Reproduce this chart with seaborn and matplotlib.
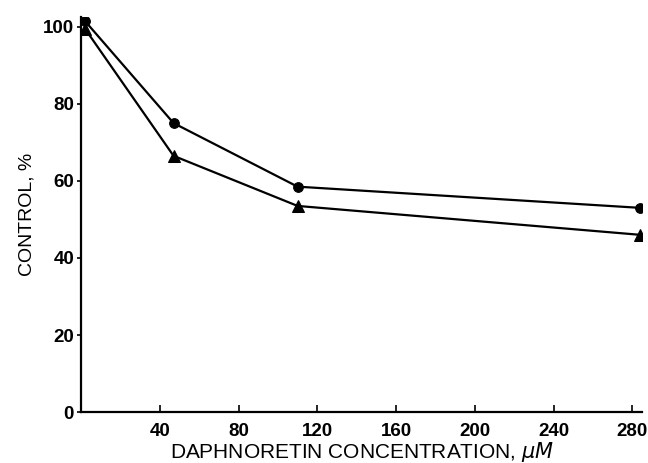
#!/usr/bin/env python3

# Daphnoretin dose response, two series (circles and triangles)
import pandas as pd
import matplotlib
matplotlib.use("Agg")
import matplotlib.pyplot as plt
import seaborn as sns

# values
concentration = [2, 47, 110, 284]
circle_control = [101.5, 75, 58.5, 53]
triangle_control = [99.5, 66.5, 53.5, 46]

x_ticks = [40, 80, 120, 160, 200, 240, 280]
y_ticks = [0, 20, 40, 60, 80, 100]

df = pd.DataFrame({
    "conc": concentration * 2,
    "control": circle_control + triangle_control,
    "series": ["circle"] * len(concentration) + ["triangle"] * len(concentration),
})

sns.set_style("ticks", {"axes.edgecolor": "black", "text.color": "black",
                        "xtick.color": "black", "ytick.color": "black",
                        "axes.labelcolor": "black"})
plt.rcParams["font.family"] = ["Liberation Sans", "DejaVu Sans"]

fig = plt.figure(figsize=(6.48, 4.63), dpi=100)
ax = fig.add_axes([0.125, 0.11, 0.866, 0.853])

sns.lineplot(data=df[df.series == "circle"], x="conc", y="control", color="black",
             marker="o", markersize=7, markeredgecolor="black", linewidth=1.6, ax=ax)
sns.lineplot(data=df[df.series == "triangle"], x="conc", y="control", color="black",
             marker="^", markersize=9, markeredgecolor="black", linewidth=1.6, ax=ax)

ax.set_xlim(0, 285)
ax.set_ylim(0, 102.5)
ax.set_xticks(x_ticks)
ax.set_yticks(y_ticks)
ax.tick_params(axis="x", direction="in", length=5, width=1.2, labelsize=13.5, pad=8)
ax.tick_params(axis="y", direction="out", length=3, width=1.2, labelsize=13.5, pad=2)
for lab in ax.get_xticklabels() + ax.get_yticklabels():
    lab.set_fontweight("bold")

sns.despine(ax=ax)
for s in ["left", "bottom"]:
    ax.spines[s].set_linewidth(1.6)

ax.set_xlabel("DAPHNORETIN CONCENTRATION, $\\mathit{\\mu M}$", fontsize=15, labelpad=0)
ax.set_ylabel("CONTROL, %", fontsize=14, labelpad=5)

plt.savefig("out.png", dpi=100)
